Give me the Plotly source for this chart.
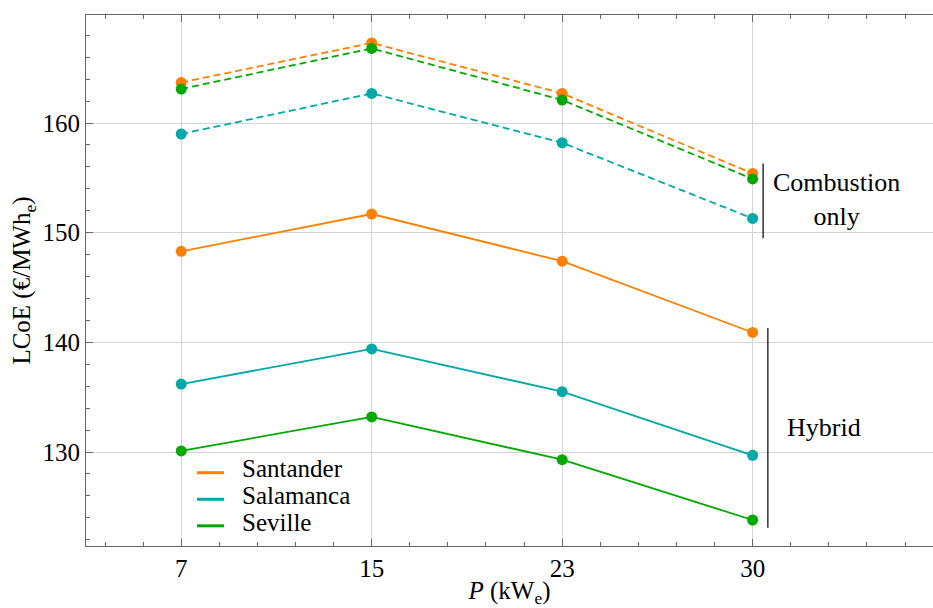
import plotly.graph_objects as go

# ---- data ----
P_kWe = [7, 15, 23, 30]
cities = ["Santander", "Salamanca", "Seville"]
hybrid_santander = [148.3, 151.7, 147.4, 140.9]
hybrid_salamanca = [136.2, 139.4, 135.5, 129.7]
hybrid_seville = [130.1, 133.2, 129.3, 123.8]
comb_santander = [163.7, 167.3, 162.7, 155.4]
comb_salamanca = [159.0, 162.7, 158.2, 151.3]
comb_seville = [163.1, 166.8, 162.1, 154.9]

hybrid = [hybrid_santander, hybrid_salamanca, hybrid_seville]
combustion = [comb_santander, comb_salamanca, comb_seville]

# ---- style ----
colors = ["#FF8000", "#00A8A8", "#00A800"]
FONT = "'Liberation Serif', 'Times New Roman', Times, serif"
xpos = list(range(len(P_kWe)))

fig = go.Figure()
for name, col, ys in zip(cities, colors, combustion):
    fig.add_trace(go.Scatter(x=xpos, y=ys, mode="lines+markers", showlegend=False,
                             name=name + " (combustion only)",
                             line=dict(color=col, width=1.8, dash="7px,4px"),
                             marker=dict(color=col, size=11)))
for name, col, ys in zip(cities, colors, hybrid):
    fig.add_trace(go.Scatter(x=xpos, y=ys, mode="lines+markers", showlegend=False,
                             name=name + " (hybrid)",
                             line=dict(color=col, width=1.8),
                             marker=dict(color=col, size=11)))

# manual legend (line swatches + text), paper coordinates
leg_line_x = (0.131, 0.163)
leg_text_x = 0.1815
leg_rows_line = [0.138, 0.088, 0.038]
leg_rows_text = [0.146, 0.095, 0.045]
for name, col, yl, yt in zip(cities, colors, leg_rows_line, leg_rows_text):
    fig.add_shape(type="line", xref="paper", yref="paper",
                  x0=leg_line_x[0], x1=leg_line_x[1], y0=yl, y1=yl,
                  line=dict(color=col, width=3))
    fig.add_annotation(xref="paper", yref="paper", x=leg_text_x, y=yt, text=name,
                       showarrow=False, xanchor="left", yanchor="middle",
                       font=dict(family=FONT, size=25, color="black"))

# brackets and labels
fig.add_shape(type="line", x0=3.055, x1=3.055, y0=149.5, y1=156.3,
              line=dict(color="black", width=1.2))
fig.add_shape(type="line", x0=3.08, x1=3.08, y0=123.1, y1=141.3,
              line=dict(color="black", width=1.2))
fig.add_annotation(x=3.44, y=153.0, text="Combustion<br>only", showarrow=False,
                   font=dict(family=FONT, size=26, color="black"), align="center")
fig.add_annotation(x=3.375, y=132.2, text="Hybrid", showarrow=False,
                   font=dict(family=FONT, size=26, color="black"))

axis_common = dict(
    showline=True, linecolor="#666666", linewidth=1,
    ticks="inside", tickcolor="#666666", ticklen=7, tickwidth=1,
    showgrid=True, gridcolor="#d4d4d4", gridwidth=1,
    zeroline=False,
    tickfont=dict(family=FONT, size=25, color="black"),
)

fig.update_xaxes(
    **axis_common,
    range=[-0.5, 3.947],
    tickvals=xpos, ticktext=[str(p) for p in P_kWe],
    mirror="ticks",
    minor=dict(dtick=0.2, tick0=0, ticks="inside", ticklen=4, tickcolor="#666666", showgrid=False),
    title=dict(text="<i>P</i> (kW<sub>e</sub>)", font=dict(family=FONT, size=25, color="black"), standoff=2),
)
fig.update_yaxes(
    **axis_common,
    range=[121.43, 169.85],
    dtick=10, tick0=130,
    minor=dict(dtick=2, ticks="inside", ticklen=4, tickcolor="#666666", showgrid=False),
    title=dict(text="LCoE (€/MWh<sub>e</sub>)", font=dict(family=FONT, size=25, color="black"), standoff=4),
)

fig.update_layout(
    width=933, height=608,
    margin=dict(l=86, r=0, t=15, b=62, autoexpand=False),
    plot_bgcolor="white", paper_bgcolor="white",
    font=dict(family=FONT, size=25, color="black"),
    showlegend=False,
)

fig.write_html("out.html")
